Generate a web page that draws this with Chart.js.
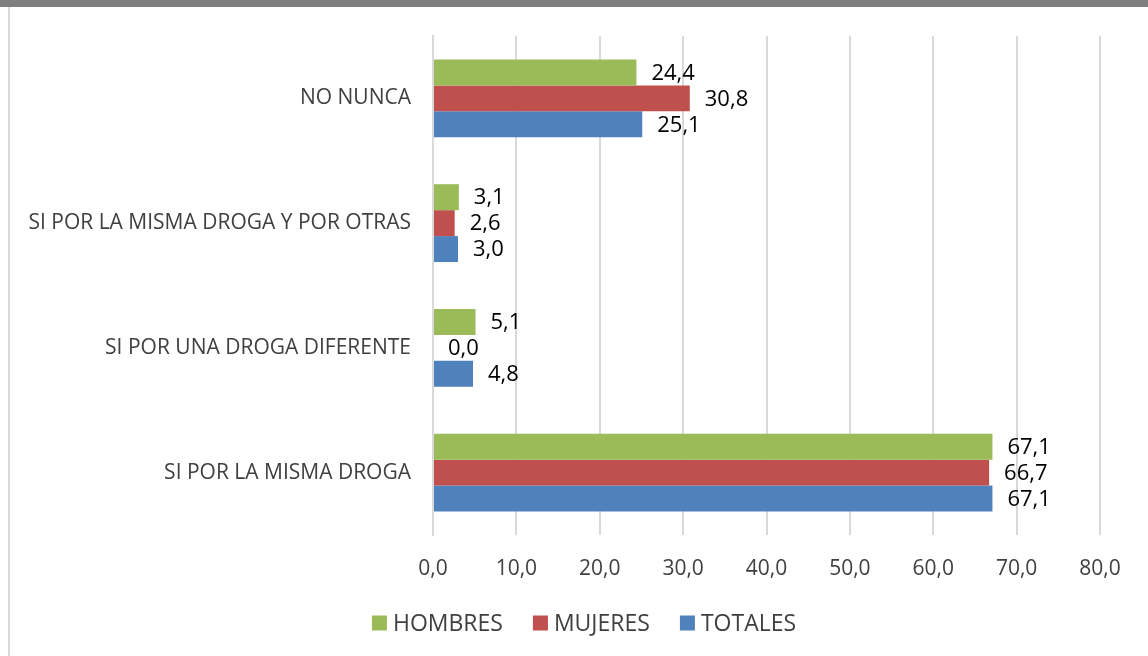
<!DOCTYPE html>
<html>
<head>
<meta charset="utf-8">
<script src="https://cdn.jsdelivr.net/npm/chart.js@4.4.1/dist/chart.umd.min.js"></script>
<style>
  html, body { margin: 0; padding: 0; background: #ffffff; }
  #wrap { position: relative; width: 1148px; height: 656px; overflow: hidden; background: #fff; }
  #topband { position: absolute; left: 0; top: 0; width: 1148px; height: 7px; background: #7f7f7f; }
  #leftline { position: absolute; left: 8px; top: 7px; width: 2px; height: 649px; background: #d9d9d9; }
  #c { position: absolute; left: 0; top: 0; }
</style>
</head>
<body>
<div id="wrap">
  <div id="topband"></div>
  <div id="leftline"></div>
  <canvas id="c" width="1148" height="656"></canvas>
</div>
<script>
const categories = ["NO NUNCA", "SI POR LA MISMA DROGA Y POR OTRAS", "SI POR UNA DROGA DIFERENTE", "SI POR LA MISMA DROGA"];
const hombres = [24.4, 3.1, 5.1, 67.1];
const mujeres = [30.8, 2.6, 0.0, 66.7];
const totales = [25.1, 3.0, 4.8, 67.1];
const seriesNames = ["HOMBRES", "MUJERES", "TOTALES"];
const xTicks = [0, 10, 20, 30, 40, 50, 60, 70, 80];

const FONT = "'Open Sans', 'DejaVu Sans', sans-serif";
const fmt = v => v.toFixed(1).replace('.', ',');

const dataLabels = {
  id: 'dataLabels',
  afterDatasetsDraw(chart) {
    const ctx = chart.ctx;
    ctx.save();
    ctx.font = "22px " + FONT;
    ctx.fillStyle = "#000000";
    ctx.textAlign = "left";
    ctx.textBaseline = "middle";
    chart.data.datasets.forEach((ds, di) => {
      const meta = chart.getDatasetMeta(di);
      meta.data.forEach((el, i) => {
        ctx.fillText(fmt(ds.data[i]), el.x + 15, el.y + 1);
      });
    });
    ctx.restore();
  }
};

// Legend drawn from the datasets' own labels and colours
const customLegend = {
  id: 'customLegend',
  afterDraw(chart) {
    const ctx = chart.ctx;
    ctx.save();
    ctx.font = "23px " + FONT;
    ctx.textBaseline = "middle";
    ctx.textAlign = "left";
    const box = 15, gapText = 6, gapItem = 30;
    const items = chart.data.datasets.map(ds => ({ text: ds.label, color: ds.backgroundColor, w: ctx.measureText(ds.label).width }));
    const total = items.reduce((s, it) => s + box + gapText + it.w, 0) + gapItem * (items.length - 1);
    const cy = 623;
    let x = 584 - total / 2;
    items.forEach(it => {
      ctx.fillStyle = it.color;
      ctx.fillRect(x, cy - box / 2, box, box);
      ctx.fillStyle = '#404040';
      ctx.fillText(it.text, x + box + gapText, cy + 1);
      x += box + gapText + it.w + gapItem;
    });
    ctx.restore();
  }
};

new Chart(document.getElementById('c'), {
  type: 'bar',
  data: {
    labels: categories,
    datasets: [
      { label: seriesNames[0], data: hombres, backgroundColor: '#9bbb59' },
      { label: seriesNames[1], data: mujeres, backgroundColor: '#c0504d' },
      { label: seriesNames[2], data: totales, backgroundColor: '#4f81bd' }
    ]
  },
  options: {
    indexAxis: 'y',
    responsive: false,
    animation: false,
    devicePixelRatio: 1,
    layout: { padding: { left: 10, right: 48, top: 36, bottom: 65 } },
    datasets: { bar: { categoryPercentage: 0.624, barPercentage: 1.0 } },
    scales: {
      x: {
        min: 0, max: 80,
        afterBuildTicks(scale) { scale.ticks = xTicks.map(v => ({ value: v })); },
        afterFit(scale) { scale.height = 56; },
        grid: { color: '#d9d9d9', lineWidth: 2, drawTicks: false },
        border: { display: false },
        ticks: {
          padding: 21,
          color: '#404040',
          font: { family: FONT, size: 21 },
          callback: v => fmt(v)
        }
      },
      y: {
        afterFit(scale) { scale.width = 423; },
        grid: { display: false, drawTicks: false },
        border: { display: true, color: '#d9d9d9', width: 2 },
        ticks: {
          padding: 22,
          color: '#404040',
          font: { family: FONT, size: 21 }
        }
      }
    },
    plugins: {
      legend: { display: false },
      tooltip: { enabled: false }
    }
  },
  plugins: [dataLabels, customLegend]
});
</script>
</body>
</html>
